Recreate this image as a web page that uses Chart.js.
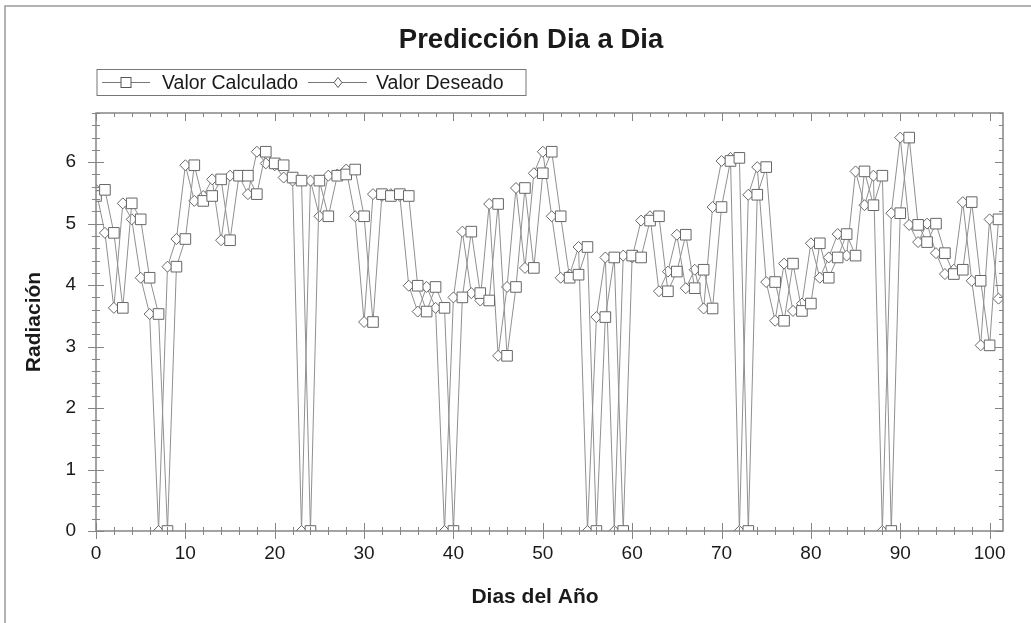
<!DOCTYPE html>
<html>
<head>
<meta charset="utf-8">
<script src="https://cdn.jsdelivr.net/npm/chart.js"></script>
<style>
  html, body { margin: 0; padding: 0; background: #fff; }
  #wrap { width: 1031px; height: 623px; }
</style>
</head>
<body>
<div id="wrap"><canvas id="myChart" width="1031" height="623"></canvas></div>
<script>
// dias del año (eje x)
const dias = [
  0, 1, 2, 3, 4, 5, 6, 7, 8, 9,
  10, 11, 12, 13, 14, 15, 16, 17, 18, 19,
  20, 21, 22, 23, 24, 25, 26, 27, 28, 29,
  30, 31, 32, 33, 34, 35, 36, 37, 38, 39,
  40, 41, 42, 43, 44, 45, 46, 47, 48, 49,
  50, 51, 52, 53, 54, 55, 56, 57, 58, 59,
  60, 61, 62, 63, 64, 65, 66, 67, 68, 69,
  70, 71, 72, 73, 74, 75, 76, 77, 78, 79,
  80, 81, 82, 83, 84, 85, 86, 87, 88, 89,
  90, 91, 92, 93, 94, 95, 96, 97, 98, 99,
  100, 101
];

const valorDeseado = [
  5.55, 4.85, 3.63, 5.33, 5.07, 4.12, 3.53, 0, 4.30, 4.75,
  5.95, 5.37, 5.45, 5.72, 4.73, 5.78, 5.78, 5.48, 6.17, 5.98,
  5.95, 5.75, 5.70, 0, 5.70, 5.12, 5.78, 5.80, 5.88, 5.12,
  3.40, 5.48, 5.45, 5.48, 5.45, 3.99, 3.57, 3.97, 3.63, 0,
  3.80, 4.87, 3.87, 3.75, 5.32, 2.85, 3.97, 5.58, 4.28, 5.82,
  6.17, 5.12, 4.12, 4.17, 4.62, 0, 3.48, 4.45, 0, 4.48,
  4.45, 5.05, 5.12, 3.90, 4.22, 4.82, 3.95, 4.25, 3.62, 5.27,
  6.02, 6.07, 0, 5.47, 5.92, 4.05, 3.42, 4.35, 3.58, 3.70,
  4.68, 4.12, 4.45, 4.83, 4.48, 5.85, 5.30, 5.78, 0, 5.17,
  6.40, 4.98, 4.70, 5.00, 4.52, 4.18, 4.25, 5.35, 4.07, 3.02,
  5.07, 3.78
];

const valorCalculado = [
  5.45, 5.55, 4.85, 3.63, 5.33, 5.07, 4.12, 3.53, 0, 4.30,
  4.75, 5.95, 5.37, 5.45, 5.72, 4.73, 5.78, 5.78, 5.48, 6.17,
  5.98, 5.95, 5.75, 5.70, 0, 5.70, 5.12, 5.78, 5.80, 5.88,
  5.12, 3.40, 5.48, 5.45, 5.48, 5.45, 3.99, 3.57, 3.97, 3.63,
  0, 3.80, 4.87, 3.87, 3.75, 5.32, 2.85, 3.97, 5.58, 4.28,
  5.82, 6.17, 5.12, 4.12, 4.17, 4.62, 0, 3.48, 4.45, 0,
  4.48, 4.45, 5.05, 5.12, 3.90, 4.22, 4.82, 3.95, 4.25, 3.62,
  5.27, 6.02, 6.07, 0, 5.47, 5.92, 4.05, 3.42, 4.35, 3.58,
  3.70, 4.68, 4.12, 4.45, 4.83, 4.48, 5.85, 5.30, 5.78, 0,
  5.17, 6.40, 4.98, 4.70, 5.00, 4.52, 4.18, 4.25, 5.35, 4.07,
  3.02, 5.07
];

const xTicks = [0, 10, 20, 30, 40, 50, 60, 70, 80, 90, 100];
const yTicks = [0, 1, 2, 3, 4, 5, 6];

const FONT = '"Liberation Sans", Arial, sans-serif';
const INK = '#1a1a1a';

// marco, marcas menores, titulos y leyenda con caja
const framePlugin = {
  id: 'frame',
  afterDraw(chart) {
    const { ctx, chartArea: a, scales: { x, y } } = chart;
    ctx.save();

    // borde exterior
    ctx.strokeStyle = '#9a9a9a';
    ctx.lineWidth = 1.5;
    ctx.beginPath();
    ctx.moveTo(5, 623); ctx.lineTo(5, 6); ctx.lineTo(1031, 6);
    ctx.stroke();

    // caja del grafico
    ctx.strokeStyle = '#858585';
    ctx.lineWidth = 1.5;
    ctx.strokeRect(a.left, a.top, a.right - a.left, a.bottom - a.top);

    ctx.lineWidth = 1;
    ctx.beginPath();
    for (let k = 0; k <= 34; k++) {
      const py = Math.round(y.getPixelForValue(k / 5)) + 0.5;
      const L = k % 5 === 0 ? 8 : 4;
      ctx.moveTo(a.left - L, py); ctx.lineTo(a.left + L, py);
      ctx.moveTo(a.right - L, py); ctx.lineTo(a.right, py);
    }
    for (let k = 0; k <= 50; k++) {
      const px = Math.round(x.getPixelForValue(k * 2)) + 0.5;
      const L = k % 5 === 0 ? 8 : 4;
      ctx.moveTo(px, a.bottom - L); ctx.lineTo(px, a.bottom + L);
      ctx.moveTo(px, a.top); ctx.lineTo(px, a.top + L);
    }
    ctx.stroke();

    // titulos
    ctx.fillStyle = INK;
    ctx.textAlign = 'center';
    ctx.textBaseline = 'middle';
    ctx.font = 'bold 27.5px ' + FONT;
    ctx.fillText('Predicción Dia a Dia', 531, 40);
    ctx.font = 'bold 21px ' + FONT;
    ctx.fillText('Dias del Año', 535, 597);

    // leyenda
    const lx = a.left + 1, ly = 69.5, lw = 429, lh = 26;
    const cy = ly + lh / 2;
    ctx.fillStyle = '#fff';
    ctx.fillRect(lx, ly, lw, lh);
    ctx.strokeStyle = '#777';
    ctx.strokeRect(lx, ly, lw, lh);

    ctx.beginPath();
    ctx.moveTo(lx + 5, cy); ctx.lineTo(lx + 53, cy);
    ctx.moveTo(lx + 211, cy); ctx.lineTo(lx + 270, cy);
    ctx.stroke();

    ctx.fillStyle = '#fff';
    ctx.strokeStyle = '#555';
    ctx.fillRect(lx + 24, cy - 5, 10, 10);
    ctx.strokeRect(lx + 24, cy - 5, 10, 10);

    const dx = lx + 241;
    ctx.beginPath();
    ctx.moveTo(dx, cy - 5); ctx.lineTo(dx + 4, cy);
    ctx.lineTo(dx, cy + 5); ctx.lineTo(dx - 4, cy);
    ctx.closePath();
    ctx.fill(); ctx.stroke();

    ctx.fillStyle = INK;
    ctx.font = '19.5px ' + FONT;
    ctx.textAlign = 'left';
    ctx.fillText('Valor Calculado', lx + 65, cy + 1);
    ctx.fillText('Valor Deseado', lx + 279, cy + 1);

    ctx.restore();
  }
};

const ctx = document.getElementById('myChart').getContext('2d');
const chart = new Chart(ctx, {
  type: 'line',
  data: {
    datasets: [{
      label: 'Valor Calculado',
      data: dias.map((d, i) => ({ x: d, y: valorCalculado[i] })),
      borderColor: '#909090',
      borderWidth: 1,
      pointStyle: 'rect',
      pointRadius: 7.5,
      pointBackgroundColor: '#fff',
      pointBorderColor: '#666',
      pointBorderWidth: 1,
      tension: 0
    }, {
      label: 'Valor Deseado',
      data: dias.map((d, i) => ({ x: d, y: valorDeseado[i] })),
      borderColor: '#909090',
      borderWidth: 1,
      pointStyle: 'rectRot',
      pointRadius: 5.5,
      pointBackgroundColor: '#fff',
      pointBorderColor: '#666',
      pointBorderWidth: 1,
      tension: 0
    }]
  },
  options: {
    responsive: false,
    animation: false,
    devicePixelRatio: 1,
    layout: { padding: { left: 10, right: 28, top: 113, bottom: 0 } },
    plugins: {
      legend: { display: false },
      tooltip: { enabled: false },
      title: { display: false }
    },
    scales: {
      x: {
        type: 'linear',
        min: 0,
        max: 101.5,
        afterBuildTicks: s => { s.ticks = xTicks.map(v => ({ value: v })); },
        afterFit: s => { s.height = 92; },
        grid: { display: false, drawTicks: false },
        border: { display: false },
        ticks: { color: INK, font: { family: FONT, size: 19 }, padding: 11, maxRotation: 0 },
        title: { display: false }
      },
      y: {
        min: 0,
        max: 6.8,
        afterBuildTicks: s => { s.ticks = yTicks.map(v => ({ value: v })); },
        afterFit: s => { s.width = 86; },
        grid: { display: false, drawTicks: false },
        border: { display: false },
        ticks: { color: INK, font: { family: FONT, size: 19 }, padding: 20 },
        title: {
          display: true,
          text: 'Radiación',
          color: INK,
          font: { family: FONT, size: 21, weight: 'bold' },
          padding: { top: 12, bottom: 0 }
        }
      }
    }
  },
  plugins: [framePlugin]
});
</script>
</body>
</html>
